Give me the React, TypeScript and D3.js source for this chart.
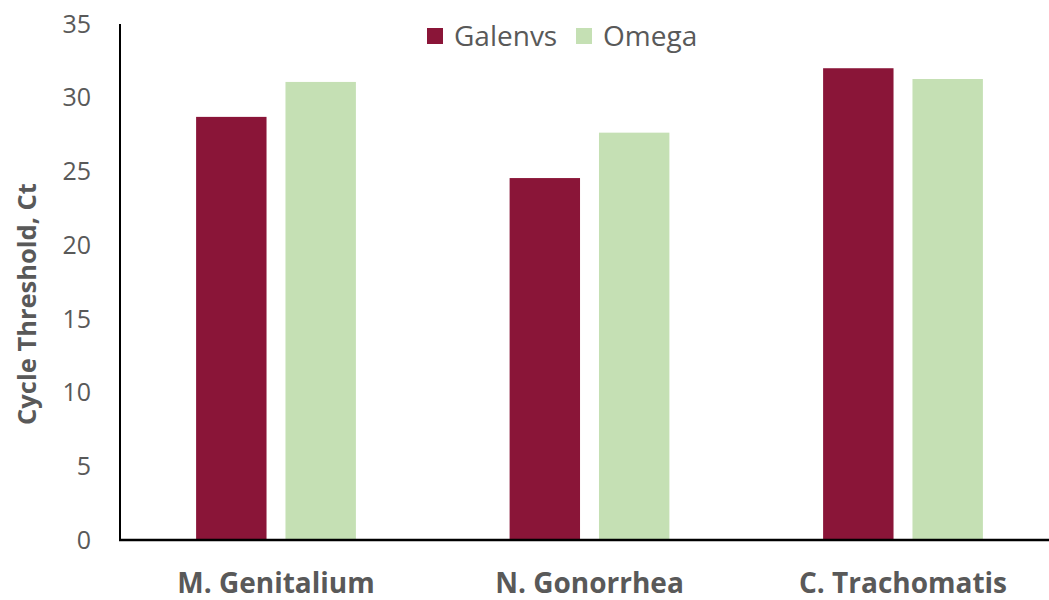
import React from "react";
import * as d3 from "d3";

const categories = ["M. Genitalium", "N. Gonorrhea", "C. Trachomatis"];
const seriesNames = ["Galenvs", "Omega"];
const galenvs = [28.7, 24.55, 32.0];
const omega = [31.07, 27.63, 31.27];
const yTicks = [0, 5, 10, 15, 20, 25, 30, 35];
const colors = ["#8A1538", "#C5E0B4"];

const W = 1049;
const H = 600;
const FONT = "'Open Sans', 'Liberation Sans', sans-serif";
const TEXT = "#595959";

export default function App() {
  const x = d3.scaleBand<string>().domain(categories).range([119.25, 1059.75]).paddingInner(0).paddingOuter(0);
  const inner = d3.scaleBand<string>().domain(seriesNames).range([0, x.bandwidth()]).paddingInner(0.212).paddingOuter(0.86);
  const y = d3.scaleLinear().domain([0, 35]).range([540, 24]);
  const series = [galenvs, omega];

  return (
    <svg width={W} height={H} style={{ position: "absolute", left: 0, top: 0, background: "#fff" }}>
      {categories.map((c, i) =>
        seriesNames.map((s, j) => (
          <rect
            key={c + s}
            x={(x(c) ?? 0) + (inner(s) ?? 0)}
            y={y(series[j][i])}
            width={inner.bandwidth()}
            height={y(0) - y(series[j][i])}
            fill={colors[j]}
          />
        ))
      )}
      <line x1={120} x2={120} y1={y(35)} y2={y(0)} stroke="#000" strokeWidth={2} />
      <line x1={119} x2={W} y1={y(0)} y2={y(0)} stroke="#000" strokeWidth={2.5} />
      {yTicks.map((t) => (
        <text key={t} x={91} y={y(t)} dy="0.35em" textAnchor="end" fontFamily={FONT} fontSize={25} fill={TEXT}>
          {t}
        </text>
      ))}
      {categories.map((c) => (
        <text
          key={c}
          x={(x(c) ?? 0) + x.bandwidth() / 2}
          y={593}
          textAnchor="middle"
          fontFamily={FONT}
          fontSize={28}
          fontWeight="bold"
          fill={TEXT}
        >
          {c}
        </text>
      ))}
      <text
        transform={`translate(36,304) rotate(-90)`}
        textAnchor="middle"
        fontFamily={FONT}
        fontSize={25.5}
        fontWeight="bold"
        fill={TEXT}
      >
        Cycle Threshold, Ct
      </text>
      {seriesNames.map((s, j) => {
        const lx = [427, 576][j];
        return (
          <g key={s}>
            <rect x={lx} y={28} width={16} height={16} fill={colors[j]} />
            <text x={lx + 27} y={46} fontFamily={FONT} fontSize={28} fill={TEXT}>
              {s}
            </text>
          </g>
        );
      })}
    </svg>
  );
}
